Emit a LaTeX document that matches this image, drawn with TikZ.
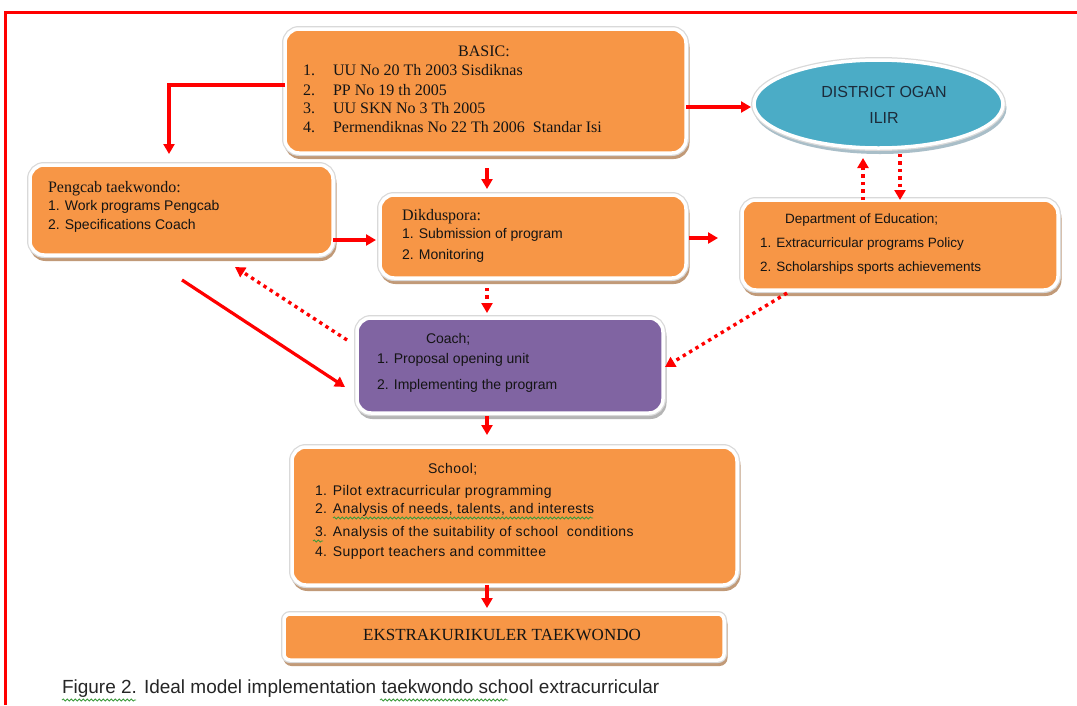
\documentclass[tikz,border=0pt]{standalone}
\usepackage{fontspec}
\setmainfont{Liberation Serif}
\setsansfont{Liberation Sans}
\newfontfamily\spacedsans[LetterSpace=3]{Liberation Sans}
\usetikzlibrary{arrows.meta,calc,shapes.geometric,decorations.pathmorphing}

\definecolor{orangefill}{HTML}{F79646}
\definecolor{purplefill}{HTML}{8064A2}
\definecolor{bluefill}{HTML}{4BACC6}
\definecolor{shadetan}{HTML}{C19A78}
\definecolor{shadeblue}{HTML}{A9BEC8}
\definecolor{shadegray}{HTML}{B5B5B5}
\definecolor{edgegray}{HTML}{D9D9D9}
\definecolor{inkred}{HTML}{FF0000}
\definecolor{ink}{HTML}{141414}
\definecolor{navyink}{HTML}{1C2B3A}
\definecolor{spellgreen}{HTML}{3C9A3C}

\tikzset{
  panel/.style 2 args={rectangle, rounded corners=14pt, fill=#1, draw=white,
    line width=3.5pt, inner sep=0pt, outer sep=0pt,
    preaction={draw=#2, line width=4pt, transform canvas={xshift=1.5pt,yshift=-4pt}},
    preaction={draw=edgegray, line width=6pt}},
  tx/.style={inner sep=0pt, outer sep=0pt, anchor=base west, text=ink},
  serifA/.style={font=\rmfamily\fontsize{16}{19}\selectfont},
  sansA/.style={font=\sffamily\fontsize{14}{17}\selectfont},
  sansB/.style={font=\sffamily\fontsize{13.5}{16}\selectfont},
  sansC/.style={font=\spacedsans\fontsize{14}{17}\selectfont},
  arr/.style={draw=inkred, line width=3.2pt, -{Triangle[length=10pt,width=11pt]}},
  dotarr/.style={draw=inkred, line width=3.4pt, dash pattern=on 3.4pt off 4pt,
    -{Triangle[length=10pt,width=11pt]}},
  squig/.style={draw=spellgreen, line width=0.8pt,
    decorate, decoration={snake, amplitude=1.1pt, segment length=4pt}},
  frameline/.style={draw=inkred, line width=3pt},
}

\begin{document}
\begin{tikzpicture}[x=1pt,y=-1pt]
\useasboundingbox (0,0) rectangle (1077,705);
\fill[white] (0,0) rectangle (1077,705);

% outer frame (top and left edges)
\draw[frameline] (5,705) -- (5,12) -- (1077,12);

% boxes
\node[panel={orangefill}{shadetan}, minimum width=401pt, minimum height=124pt] (basic) at (485.5,91) {};
\node[ellipse, fill=bluefill, draw=white, line width=3.5pt, inner sep=0pt, outer sep=0pt,
      minimum width=249pt, minimum height=88pt,
      preaction={draw=shadeblue, line width=4pt, transform canvas={xshift=1.5pt,yshift=-4pt}},
      preaction={draw=edgegray, line width=6pt}] (dist) at (878.5,104) {};
\node[panel={orangefill}{shadetan}, minimum width=303pt, minimum height=90pt] (pengcab) at (181.5,210) {};
\node[panel={orangefill}{shadetan}, minimum width=306pt, minimum height=83pt] (didu) at (533,236.5) {};
\node[panel={orangefill}{shadetan}, minimum width=316pt, minimum height=90pt] (dept) at (900,245) {};
\node[panel={purplefill}{shadegray}, minimum width=306pt, minimum height=95pt] (coach) at (510,365.5) {};
\node[panel={orangefill}{shadetan}, minimum width=445pt, minimum height=138pt] (school) at (514.5,516) {};
\node[panel={orangefill}{shadetan}, rounded corners=6pt, minimum width=440pt, minimum height=46pt] (ekstra) at (504,637) {};

% BASIC texts
\node[tx, serifA, anchor=base] (b0) at (484,56) {BASIC:};
\node[tx, serifA] (b1) at (303,75) {\makebox[30pt][l]{1.}UU No 20 Th 2003 Sisdiknas};
\node[tx, serifA] (b2) at (303,95) {\makebox[30pt][l]{2.}PP No 19 th 2005};
\node[tx, serifA] (b3) at (303,113) {\makebox[30pt][l]{3.}UU SKN No 3 Th 2005};
\node[tx, serifA] (b4) at (303,132) {\makebox[30pt][l]{4.}Permendiknas No 22 Th 2006\ \ Standar Isi};

% district
\node[tx, anchor=base, text=navyink, font=\sffamily\fontsize{16}{19}\selectfont] (t0) at (884,97) {DISTRICT OGAN};
\node[tx, anchor=base, text=navyink, font=\sffamily\fontsize{16}{19}\selectfont] (t1) at (884,123) {ILIR};

% Pengcab texts
\node[tx, serifA] (p0) at (48,192) {Pengcab taekwondo:};
\node[tx, sansA] (p1) at (48,210) {1. Work programs Pengcab};
\node[tx, sansA] (p2) at (48,229) {2. Specifications Coach};

% Dikduspora texts
\node[tx, serifA] (d0) at (402,220) {Dikduspora:};
\node[tx, sansA] (d1) at (402,238) {1. Submission of program};
\node[tx, sansA] (d2) at (402,259) {2. Monitoring};

% Department texts
\node[tx, sansB] (e0) at (785,223) {Department of Education;};
\node[tx, sansB] (e1) at (760,247) {1. Extracurricular programs Policy};
\node[tx, sansB] (e2) at (760,271) {2. Scholarships sports achievements};

% Coach texts
\node[tx, sansA] (c0) at (426,343) {Coach;};
\node[tx, sansA] (c1) at (377,363) {1. Proposal opening unit};
\node[tx, sansA] (c2) at (377,389) {2. Implementing the program};

% School texts
\node[tx, sansC] (s0) at (428,473) {School;};
\node[tx, sansC] (s1) at (315,495) {1. Pilot extracurricular programming};
\node[tx, sansC] (s2) at (315,513) {2. Analysis of needs, talents, and interests};
\node[tx, sansC] (s3) at (315,536) {3. Analysis of the suitability of school\ \ conditions};
\node[tx, sansC] (s4) at (315,556) {4. Support teachers and committee};
\draw[squig] (333,518) -- (593,518);
\draw[squig] (313,541) -- (323,541);

% Ekstrakurikuler text
\node[tx, anchor=base, font=\rmfamily\fontsize{17}{20}\selectfont] (k0) at (502,640) {EKSTRAKURIKULER TAEKWONDO};

% caption
\node[tx, text=black!85, font=\sffamily\fontsize{19}{22}\selectfont] (cap) at (62,693) {Figure 2. Ideal model implementation taekwondo school extracurricular};
\draw[squig] (62,700) -- (136,700);
\draw[squig] (380,700) -- (508,700);

% connectors
\draw[arr] (basic.west |- 0,85) -| ($(pengcab.north -| 169,0)+(0,-11)$);
\draw[arr] (basic.east |- 0,107) -- ($(dist.west |- 0,107)+(-3,0)$);
\draw[arr] ($(basic.south -| 487,0)+(0,15)$) -- ($(didu.north -| 487,0)+(0,-6)$);
\draw[arr] (pengcab.east |- 0,240) -- ($(didu.west |- 0,240)+(-4,0)$);
\draw[arr] ($(didu.east |- 0,238)+(3,0)$) -- ($(dept.west |- 0,238)+(-24,0)$);
\draw[dotarr] (dept.north -| 863,0) -- ($(dist.south -| 863,0)+(0,10)$);
\draw[dotarr] ($(dist.south -| 900,0)+(0,6)$) -- (dept.north -| 900,0);
\draw[dotarr] ($(didu.south -| 487,0)+(0,10)$) -- ($(coach.north -| 487,0)+(0,-5)$);
\draw[arr] ($(pengcab.south -| 182,0)+(0,25)$) -- ($(coach.west |- 0,387)+(-12,0)$);
\draw[dotarr] ($(coach.west |- 0,340)+(-10,0)$) -- ($(pengcab.south -| 235,0)+(0,12)$);
\draw[dotarr] ($(dept.south -| 787,0)+(0,3)$) -- ($(coach.east |- 0,367)+(2,0)$);
\draw[arr] ($(coach.south -| 487,0)+(0,3)$) -- ($(school.north -| 487,0)+(0,-12)$);
\draw[arr] (school.south -| 487,0) -- ($(ekstra.north -| 487,0)+(0,-6)$);
\end{tikzpicture}
\end{document}
